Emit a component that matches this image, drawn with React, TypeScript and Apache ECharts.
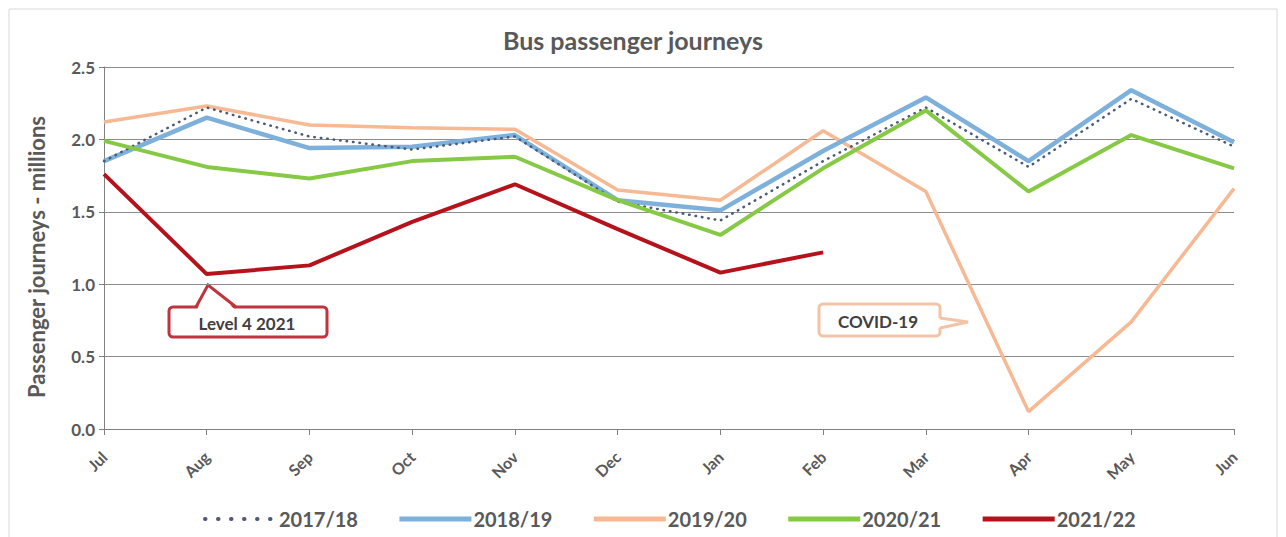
import React, { useEffect, useRef } from "react";
import * as echarts from "echarts";

const months = ["Jul", "Aug", "Sep", "Oct", "Nov", "Dec", "Jan", "Feb", "Mar", "Apr", "May", "Jun"];
const y2017 = [1.85, 2.22, 2.02, 1.93, 2.02, 1.57, 1.44, 1.85, 2.22, 1.81, 2.28, 1.95];
const y2018 = [1.85, 2.15, 1.94, 1.95, 2.03, 1.58, 1.51, 1.92, 2.29, 1.85, 2.34, 1.98];
const y2019 = [2.12, 2.23, 2.10, 2.08, 2.07, 1.65, 1.58, 2.06, 1.64, 0.12, 0.74, 1.66];
const y2020 = [1.99, 1.81, 1.73, 1.85, 1.88, 1.58, 1.34, 1.80, 2.20, 1.64, 2.03, 1.80];
const y2021 = [1.76, 1.07, 1.13, 1.43, 1.69, 1.38, 1.08, 1.22, null, null, null, null];
const seriesNames = ["2017/18", "2018/19", "2019/20", "2020/21", "2021/22"];
const annLevel4 = "Level 4 2021";
const annCovid = "COVID-19";

const FONT = "Lato, 'Open Sans', sans-serif";
const TXT = "#595959";

export default function App() {
  const ref = useRef<HTMLDivElement>(null);
  useEffect(() => {
    if (!ref.current) return;
    const chart = echarts.init(ref.current, undefined, { renderer: "svg" });
    const mk = (name: string, data: (number | null)[], color: string, width: number, type: any = "solid", z = 2) => ({
      name,
      type: "line",
      data,
      symbol: "none",
      z,
      lineStyle: { color, width, type, cap: type === "solid" ? "butt" : "round" },
      itemStyle: { color },
    });
    chart.setOption({
      animation: false,
      backgroundColor: "#ffffff",
      textStyle: { fontFamily: FONT },
      title: {
        text: "Bus passenger journeys",
        left: 628,
        textAlign: "center",
        top: 22,
        textStyle: { color: TXT, fontSize: 25, fontWeight: "bold", fontFamily: FONT },
      },
      grid: { left: 104, right: 52, top: 67, bottom: 108 },
      xAxis: {
        type: "category",
        data: months,
        boundaryGap: false,
        axisLine: { lineStyle: { color: "#808080", width: 1 } },
        axisTick: { show: true, length: 6, lineStyle: { color: "#808080" } },
        axisLabel: { rotate: 45, color: TXT, fontSize: 16, fontWeight: "bold", margin: 25, fontFamily: FONT },
        splitLine: { show: false },
      },
      yAxis: {
        type: "value",
        min: 0,
        max: 2.5,
        interval: 0.5,
        name: "Passenger journeys - millions",
        nameLocation: "middle",
        nameGap: 57,
        nameTextStyle: { color: TXT, fontSize: 22, fontWeight: "bold", fontFamily: FONT, padding: [0, 18, 0, 0] },
        axisLine: { show: true, lineStyle: { color: "#808080" } },
        axisTick: { show: true, length: 5, lineStyle: { color: "#808080" } },
        axisLabel: {
          color: TXT,
          fontSize: 17,
          fontWeight: "bold",
          margin: 9,
          fontFamily: FONT,
          formatter: (v: number) => v.toFixed(1),
        },
        splitLine: { lineStyle: { color: "#8c8c8c", width: 1 } },
      },
      legend: {
        bottom: 3,
        left: 198,
        itemWidth: 72,
        itemHeight: 12,
        itemGap: 39,
        itemStyle: { opacity: 0 },
        lineStyle: { width: 5 },
        textStyle: { color: TXT, fontSize: 20, fontWeight: "bold", fontFamily: FONT, padding: [0, 0, 0, -3] },
        data: [
          { name: seriesNames[0], lineStyle: { width: 4, type: [0.5, 12.5], cap: "round" } },
          { name: seriesNames[1] },
          { name: seriesNames[2] },
          { name: seriesNames[3] },
          { name: seriesNames[4] },
        ],
      },
      series: [
        mk(seriesNames[2], y2019, "#f6b993", 3.5, "solid", 2),
        mk(seriesNames[1], y2018, "#7eb0dc", 4.5, "solid", 3),
        mk(seriesNames[0], y2017, "#4a5a78", 2.5, [0.5, 6], 4),
        mk(seriesNames[3], y2020, "#85c944", 4, "solid", 5),
        mk(seriesNames[4], y2021, "#b5121b", 4, "solid", 6),
      ],
      graphic: [
        {
          type: "rect",
          shape: { x: 9, y: 9, width: 1268, height: 540 },
          style: { fill: "none", stroke: "#d9d9d9", lineWidth: 1 },
          silent: true,
          z: -10,
        },
        {
          type: "group",
          z: 100,
          children: [
            {
              type: "rect",
              shape: { x: 169, y: 307, width: 158, height: 30, r: 4 },
              style: { fill: "#ffffff", stroke: "#c0343e", lineWidth: 3 },
            },
            {
              type: "polygon",
              shape: { points: [[197, 309.5], [208, 286], [235, 309.5]] },
              style: { fill: "#ffffff", stroke: "none" },
            },
            {
              type: "polyline",
              shape: { points: [[196, 307], [208, 285], [236, 307]] },
              style: { fill: "none", stroke: "#c0343e", lineWidth: 3 },
            },
            {
              type: "text",
              x: 247,
              y: 323,
              style: {
                text: annLevel4,
                fill: "#404040",
                fontSize: 17,
                fontWeight: "bold",
                fontFamily: FONT,
                align: "center",
                verticalAlign: "middle",
              },
            },
          ],
        },
        {
          type: "group",
          z: 100,
          children: [
            {
              type: "rect",
              shape: { x: 819, y: 304, width: 121, height: 32, r: 4 },
              style: { fill: "#ffffff", stroke: "#f1c4a8", lineWidth: 3 },
            },
            {
              type: "polygon",
              shape: { points: [[937, 318], [968, 322], [937, 328]] },
              style: { fill: "#ffffff", stroke: "none" },
            },
            {
              type: "polyline",
              shape: { points: [[940, 318], [968, 322], [940, 328]] },
              style: { fill: "none", stroke: "#f1c4a8", lineWidth: 3 },
            },
            {
              type: "text",
              x: 878,
              y: 321,
              style: {
                text: annCovid,
                fill: "#404040",
                fontSize: 17,
                fontWeight: "bold",
                fontFamily: FONT,
                align: "center",
                verticalAlign: "middle",
              },
            },
          ],
        },
      ],
    });
    return () => chart.dispose();
  }, []);
  return (
    <div
      ref={ref}
      style={{ position: "fixed", left: 0, top: 0, width: 1286, height: 537 }}
    />
  );
}
